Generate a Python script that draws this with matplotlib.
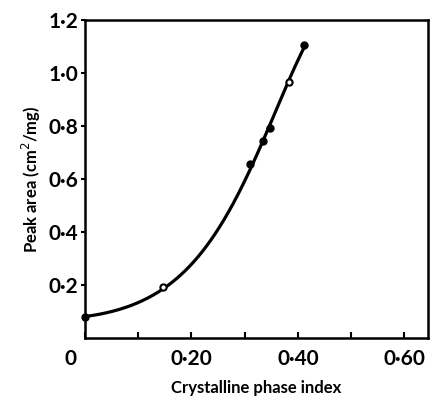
import numpy as np
import matplotlib.pyplot as plt

# measured points (crystalline phase index, peak area)
filled_x = [0.0, 0.311, 0.334, 0.347, 0.411]
filled_y = [0.08, 0.656, 0.743, 0.79, 1.105]
open_x = [0.147, 0.383]
open_y = [0.19, 0.966]

# smooth curve
curve_x = [0.0, 0.05, 0.10, 0.15, 0.20, 0.25, 0.28, 0.30, 0.35, 0.385, 0.41]
curve_y = [0.08, 0.10, 0.135, 0.19, 0.27, 0.40, 0.525, 0.61, 0.81, 0.96, 1.10]

x_ticks = [0.0, 0.2, 0.4, 0.6]
x_labels = ['0', '0·20', '0·40', '0·60']
y_ticks = [0.2, 0.4, 0.6, 0.8, 1.0, 1.2]
y_labels = ['0·2', '0·4', '0·6', '0·8', '1·0', '1·2']

plt.rcParams['font.family'] = ['Lato', 'DejaVu Sans']

fig = plt.figure(figsize=(4.32, 3.97), dpi=100)
ax = fig.add_axes([0.197, 0.149, 0.794, 0.801])

# smooth through the read points (fit in log space)
coef = np.polyfit(curve_x, np.log(curve_y), 3)
xs = np.linspace(curve_x[0], curve_x[-1], 200)
ax.plot(xs, np.exp(np.polyval(coef, xs)), color='black', lw=2.3, zorder=2)
ax.plot(filled_x, filled_y, 'o', color='black', ms=5, zorder=3, clip_on=False)
ax.plot(open_x, open_y, 'o', mfc='white', mec='black', mew=1.5, ms=4.5, zorder=3)

ax.set_xlim(0, 0.645)
ax.set_ylim(0, 1.2)
ax.set_xticks(x_ticks)
# the "0" label sits left of the corner in the original
ax.set_xticklabels([''] + x_labels[1:], fontsize=15, fontweight='bold')
ax.annotate(x_labels[0], xy=(0, 0), xycoords='axes fraction', xytext=(-15, -11),
            textcoords='offset pixels', ha='center', va='top',
            fontsize=15, fontweight='bold')
ax.set_xticks([0.1, 0.3, 0.5], minor=True)
ax.set_yticks(y_ticks)
ax.set_yticklabels(y_labels, fontsize=15, fontweight='bold')
ax.tick_params(axis='x', which='both', direction='in', length=4, width=1.5, pad=8)
ax.tick_params(axis='y', direction='out', length=3, width=1.5, pad=2)
for s in ax.spines.values():
    s.set_linewidth(1.8)

ax.set_xlabel('Crystalline phase index', fontsize=12, fontweight='bold', labelpad=8)
ax.set_ylabel('Peak area (cm$^2$/mg)', fontsize=12, fontweight='bold', labelpad=4)

fig.savefig('out.png', dpi=100)
